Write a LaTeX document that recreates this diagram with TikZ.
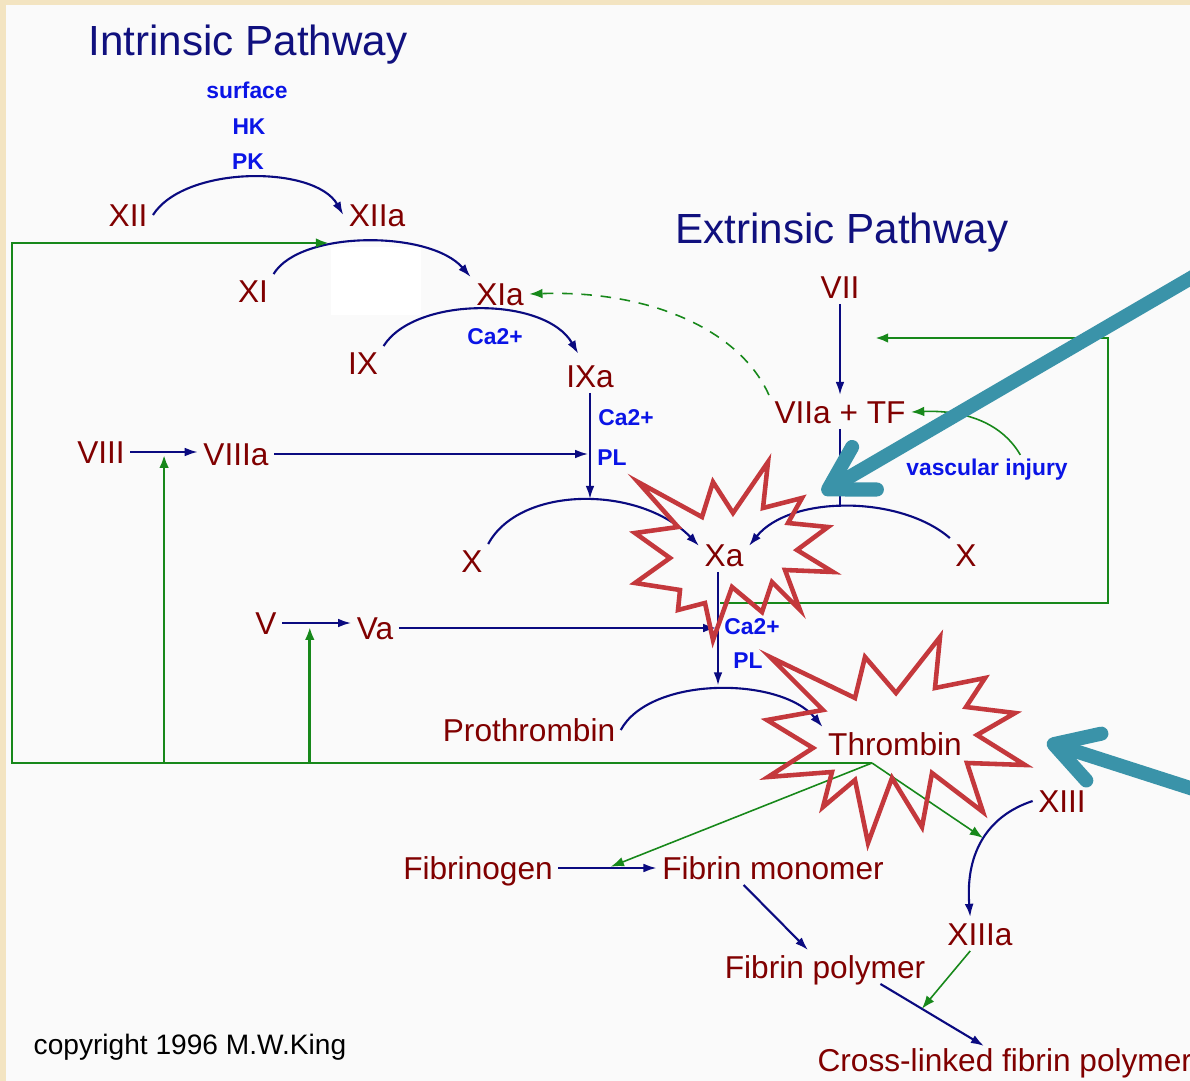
\documentclass[tikz,border=0pt]{standalone}
\usepackage{fontspec}
\setmainfont{Liberation Sans}
\usetikzlibrary{arrows.meta, calc}

\definecolor{facred}{HTML}{800000}
\definecolor{cofblue}{HTML}{0A14E6}
\definecolor{pathblue}{HTML}{10107E}
\definecolor{reactnavy}{HTML}{0A0A80}
\definecolor{loopgreen}{HTML}{17881A}
\definecolor{starred}{HTML}{C4383C}
\definecolor{noteteal}{HTML}{3A93A9}
\definecolor{paper}{HTML}{FAFAFA}
\definecolor{frame}{HTML}{F3E4C1}

\begin{document}
\begin{tikzpicture}[x=0.02cm, y=-0.02cm,
  fac/.style={text=facred, font=\fontsize{18}{20}\selectfont, inner sep=3pt, text height=12.9pt, text depth=0pt},
  cof/.style={text=cofblue, font=\fontsize{13}{15}\selectfont\bfseries, inner sep=2pt, text height=9.4pt, text depth=0pt},
  ttl/.style={text=pathblue, font=\fontsize{24}{28}\selectfont, inner sep=2pt, text height=17.2pt, text depth=0pt},
  rx/.style={draw=reactnavy, line width=1.2pt, -{Latex[length=7.5pt,width=5pt]}},
  rline/.style={draw=reactnavy, line width=1.2pt},
  fb/.style={draw=loopgreen, line width=1.5pt, -{Latex[length=7.5pt,width=5.5pt]}},
  fbthin/.style={draw=loopgreen, line width=0.9pt, -{Latex[length=7.5pt,width=5.5pt]}},
  fbdash/.style={fbthin, dash pattern=on 6pt off 5pt},
  burst/.style={draw=starred, line width=2.6pt, line join=miter},
  pointer/.style={draw=noteteal, line width=8pt, line cap=round, -{Straight Barb[length=24pt,width=28pt,round]}}
]
\useasboundingbox (0,0) rectangle (1190,1081);
\clip (0,0) rectangle (1190,1081);

% Page
\fill[frame] (0,0) rectangle (1190,1081);
\fill[paper] (6,5) rectangle (1190,1081);
\fill[white] (331,247) rectangle (421,315);

% Titles
\node[ttl] (intr) at (248,40) {Intrinsic Pathway};
\node[ttl] (extr) at (842,228) {Extrinsic Pathway};

% Factors
\node[fac] (xii) at (128,215) {XII};
\node[fac] (xiia) at (377,215) {XIIa};
\node[fac] (xi) at (253,291) {XI};
\node[fac] (xia) at (500,294) {XIa};
\node[fac] (ix) at (363,363) {IX};
\node[fac] (ixa) at (590,376) {IXa};
\node[fac] (vii) at (840,287) {VII};
\node[fac] (viiatf) at (840,412) {VIIa + TF};
\node[fac] (viii) at (101,452) {VIII};
\node[fac] (viiia) at (236,454) {VIIIa};
\node[fac] (xl) at (472,561) {X};
\node[fac] (xa) at (724,555) {Xa};
\node[fac] (xr) at (966,555) {X};
\node[fac] (v) at (266,623) {V};
\node[fac] (va) at (375,628) {Va};
\node[fac] (prot) at (529,730) {Prothrombin};
\node[fac] (thr) at (895,744) {Thrombin};
\node[fac] (xiii) at (1062,801) {XIII};
\node[fac] (fbg) at (478,868) {Fibrinogen};
\node[fac] (fmon) at (773,868) {Fibrin monomer};
\node[fac] (xiiia) at (980,934) {XIIIa};
\node[fac] (fpol) at (825,967) {Fibrin polymer};
\node[fac, anchor=west] (xlink) at (812,1060) {Cross-linked fibrin polymer};

% Cofactors
\node[cof] (surf) at (247,90) {surface};
\node[cof] (hk) at (249,126) {HK};
\node[cof] (pk) at (248,161) {PK};
\node[cof] (ca1) at (495,336) {Ca2+};
\node[cof] (ca2) at (626,417) {Ca2+};
\node[cof] (pl2) at (612,457) {PL};
\node[cof] (vinj) at (987,467) {vascular injury};
\node[cof] (ca3) at (752,626) {Ca2+};
\node[cof] (pl3) at (748,660) {PL};

\node[font=\fontsize{16}{18}\selectfont, inner sep=2pt] (copy) at (190,1047) {copyright 1996 M.W.King};

% Junctions
\coordinate (xrPeak) at (843,507);
\coordinate (xlPeak) at (590,499);
\coordinate (protPeak) at (718,689);
\coordinate (thrOut) at (872,763);
\coordinate (loopNW) at (12,243);
\coordinate (xiHit) at (329,243);
\coordinate (xaLoop) at (720,603);
\coordinate (loopNE) at (1108,338);
\coordinate (viiHit) at (875,338);
\coordinate (xiiiHit) at (983,838);
\coordinate (xlinkIn) at (984,1046);
\coordinate (viiiHit) at ($(viii.east)!0.5!(viiia.west)$);
\coordinate (vHit) at ($(v.east)!0.4!(va.west)$);
\coordinate (fbgHit) at ($(fbg.east)!0.5!(fmon.west)$);
\coordinate (xlinkJoin) at ($(fpol.-17)!0.4!(xlinkIn)$);

% Intrinsic cascade
\draw[rx] (xii.east) .. controls (185,165) and (315,165) .. (xiia.west);
\draw[rx] (xi.north east) .. controls (300,230) and (430,230) .. (xia.north west);
\draw[rx] (ix.north east) .. controls (415,296) and (545,296) .. ([xshift=10pt,yshift=3pt]ixa.north west);
\draw[rx] (ixa.south) -- (ixa.south |- xlPeak);
\draw[rx] (viii.east) -- (viii.east -| viiia.west);
\draw[rx, shorten >=1pt] (viiia.east) -- (viiia.east -| ixa.south);
\draw[rx] (xl.north east) .. controls (520,485) and (640,485) .. (xa.160);

% Extrinsic cascade
\draw[rx] (vii.south) -- (vii.south |- viiatf.north);
\draw[rline] (viiatf.south) -- (viiatf.south |- xrPeak);
\draw[rx] (xr.north west) .. controls (900,495) and (790,495) .. (xa.20);
\draw[fbthin] (vinj.20) .. controls (1000,420) and (960,410) .. (viiatf.east);
\draw[fbdash] (viiatf.north west) .. controls (740,330) and (650,290) .. (xia.east);

% Common pathway
\draw[rx] (v.east) -- (v.east -| va.west);
\draw[rx, shorten >=1pt] (va.east) -- (va.east -| protPeak);
\draw[rx, shorten >=2pt] (protPeak |- xa.south) -- (protPeak);
\draw[rx] (prot.east) .. controls (650,676) and (780,676) .. (thr.north west);
\draw[rx] (fbg.east) -- (fmon.west);
\draw[rx] (fmon.-150) -- (fpol.135);
\draw[rx] (fpol.-17) -- (xlinkIn);
\draw[rx] (xiii.west) .. controls (990,815) and (965,850) .. (xiiia.120);

% Feedback
\draw[fb] (thrOut) -- (thrOut -| loopNW) -- (loopNW) -- (xiHit);
\draw[fb, shorten >=1pt] (viiiHit |- thrOut) -- (viiiHit);
\draw[fb, shorten >=1pt] (vHit |- thrOut) -- (vHit);
\draw[fb] (xaLoop) -| (loopNE) -- (viiHit);
\draw[fbthin, shorten >=2pt] (thrOut) -- (fbgHit);
\draw[fbthin] (thrOut) -- (xiiiHit);
\draw[fbthin] (xiiia.-120) -- (xlinkJoin);

% Bursts
\draw[burst] (638,482) -- (678,527) -- (635,533) -- (670,558) -- (635,583) -- (680,590)
  -- (678,610) -- (705,603) -- (713,640) -- (732,587) -- (762,612) -- (772,582)
  -- (800,610) -- (785,570) -- (833,572) -- (797,550) -- (828,527) -- (788,523)
  -- (802,498) -- (763,508) -- (768,462) -- (733,513) -- (713,482) -- (702,517) -- cycle;
\draw[burst] (770,657) -- (823,710) -- (767,720) -- (813,748) -- (768,777) -- (832,772)
  -- (823,807) -- (855,780) -- (868,843) -- (892,778) -- (922,827) -- (932,773)
  -- (983,812) -- (967,763) -- (1025,765) -- (977,735) -- (1015,713) -- (966,707)
  -- (985,678) -- (935,688) -- (940,637) -- (896,693) -- (865,657) -- (855,698) -- cycle;

% Pointers
\coordinate (xaTip) at (822,493);
\coordinate (xaTail) at (1215,264);
\coordinate (thrTip) at (1047,742);
\coordinate (thrTail) at (1215,796);
\draw[pointer] (xaTail) -- (xaTip);
\draw[pointer] (thrTail) -- (thrTip);
\end{tikzpicture}
\end{document}
